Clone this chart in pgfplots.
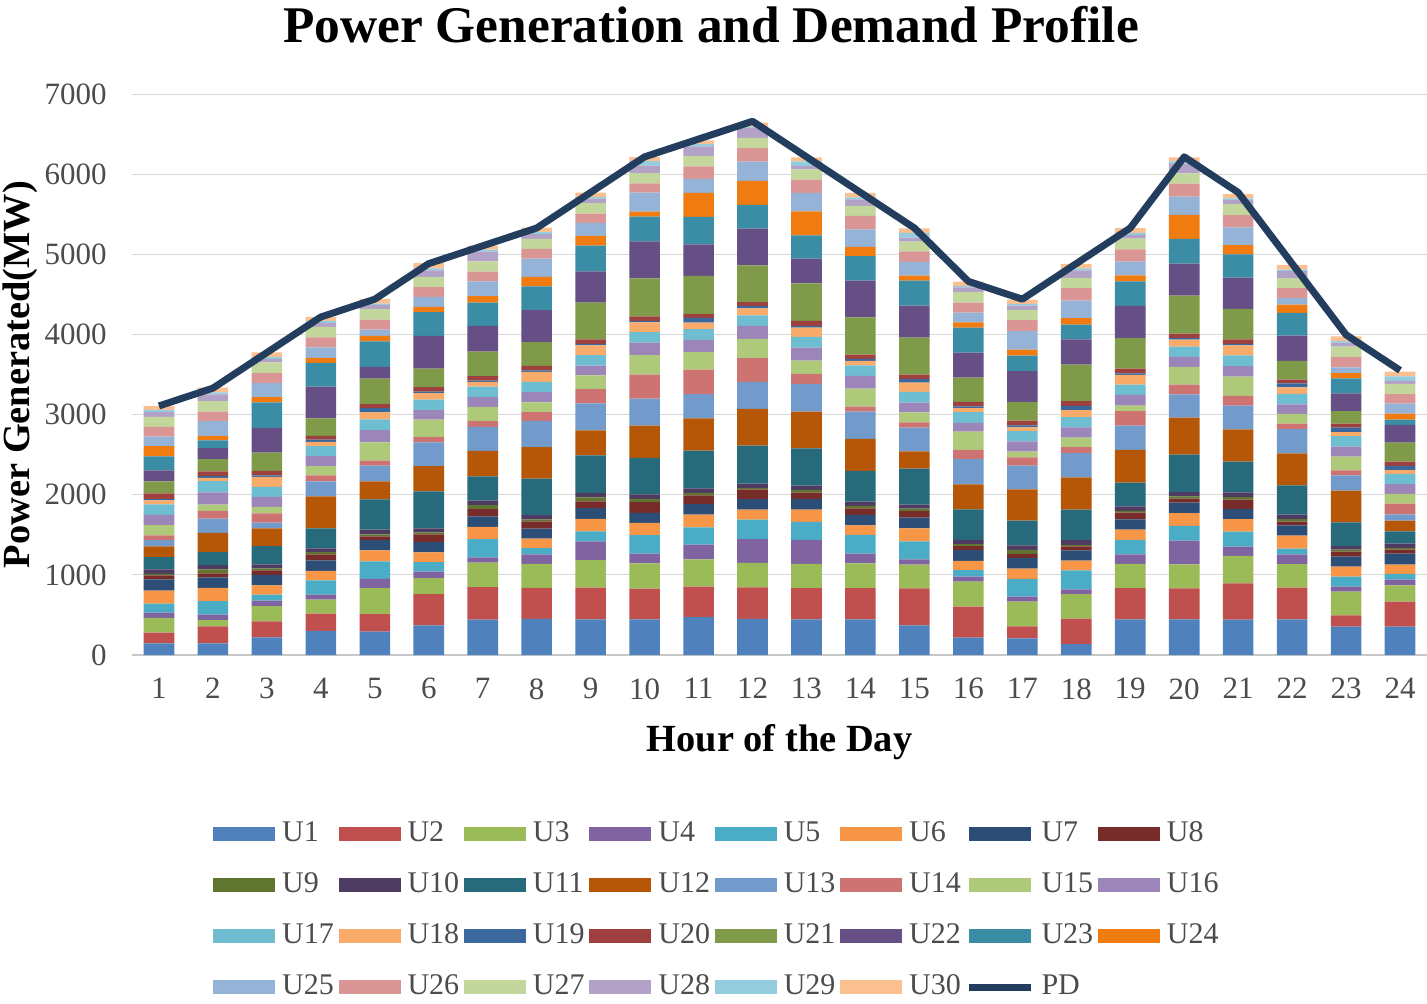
\documentclass[border=0pt]{standalone}
\usepackage{fontspec}
\setmainfont{Liberation Serif}
\usepackage{pgfplots}
\usepackage{pgfplotstable}
\pgfplotsset{compat=1.18}
\definecolor{c1}{HTML}{4F81BD}\definecolor{c2}{HTML}{C0504D}\definecolor{c3}{HTML}{9BBB59}
\definecolor{c4}{HTML}{8064A2}\definecolor{c5}{HTML}{4BACC6}\definecolor{c6}{HTML}{F79646}
\definecolor{c7}{HTML}{2C4D75}\definecolor{c8}{HTML}{772C2A}\definecolor{c9}{HTML}{5F7530}
\definecolor{c10}{HTML}{4D3B62}\definecolor{c11}{HTML}{276A7C}\definecolor{c12}{HTML}{B65708}
\definecolor{c13}{HTML}{729ACA}\definecolor{c14}{HTML}{CD7371}\definecolor{c15}{HTML}{AFC97A}
\definecolor{c16}{HTML}{9C85B8}\definecolor{c17}{HTML}{6FBDD1}\definecolor{c18}{HTML}{F9AB6B}
\definecolor{c19}{HTML}{3A679C}\definecolor{c20}{HTML}{9E413E}\definecolor{c21}{HTML}{7F9A48}
\definecolor{c22}{HTML}{664F84}\definecolor{c23}{HTML}{3A8DA5}\definecolor{c24}{HTML}{F07B10}
\definecolor{c25}{HTML}{95B3D7}\definecolor{c26}{HTML}{D99694}\definecolor{c27}{HTML}{C3D69B}
\definecolor{c28}{HTML}{B3A2C7}\definecolor{c29}{HTML}{93CDDD}\definecolor{c30}{HTML}{FAC090}
\definecolor{pdcol}{HTML}{233D5E}
\pgfplotsset{
  barleg/.style={legend image code/.code={\fill[##1] (0pt,-3.5pt) rectangle (31pt,3.5pt);}},
  pdleg/.style={legend image code/.code={\draw[##1] (0pt,0pt) -- (31pt,0pt);}}
}
\pgfplotstableread{
h U1 U2 U3 U4 U5 U6 U7 U8 U9 U10 U11 U12 U13 U14 U15 U16 U17 U18 U19 U20 U21 U22 U23 U24 U25 U26 U27 U28 U29 U30 PD
1 146 133 183 67 113 163 138 50 21 54 154 133 79 58 129 129 129 50 17 71 150 138 175 125 121 121 125 63 25 50 3108
2 146 213 75 71 167 167 129 50 50 54 163 238 179 96 79 154 138 42 25 54 154 138 96 58 183 117 133 83 25 58 3330
3 221 200 188 71 75 113 133 54 25 50 229 221 71 117 79 125 125 125 21 54 229 308 317 67 175 125 133 42 25 58 3774
4 300 217 175 63 175 121 129 75 29 46 250 400 188 75 113 125 125 54 29 46 217 396 296 63 133 125 129 50 25 50 4218
5 292 217 325 117 217 138 129 46 25 58 379 225 196 63 225 154 133 88 54 50 317 146 321 67 79 125 129 54 17 58 4440
6 371 388 200 83 117 121 129 96 25 50 463 313 296 67 217 121 129 83 17 58 229 408 296 67 125 121 129 79 25 67 4884
7 442 404 308 63 229 154 129 92 50 54 304 317 300 71 179 121 133 58 17 54 308 321 288 83 183 121 129 121 25 50 5106
8 450 388 300 117 79 117 125 92 25 54 454 392 329 108 121 129 129 125 17 58 296 400 296 117 229 121 125 58 25 58 5328
9 446 396 342 233 125 158 133 83 50 58 466 312 337 179 171 121 133 121 17 58 458 391 320 121 162 116 133 54 21 54 5772
10 446 383 316 121 229 154 125 133 42 54 458 400 337 300 245 154 133 121 17 58 474 462 308 62 237 116 129 92 58 50 6216
11 472 380 341 183 218 157 131 109 31 57 472 402 301 306 218 153 135 83 57 52 472 393 345 297 175 157 131 118 31 44 6438
12 450 393 306 297 245 122 131 122 17 57 472 459 336 297 240 162 131 87 31 48 459 459 297 297 240 170 127 122 17 52 6660
13 445 391 300 300 225 154 129 83 33 54 466 458 345 125 166 162 133 116 21 62 470 308 291 300 229 166 129 42 58 50 6216
14 445 391 308 121 233 121 129 83 29 54 383 399 341 62 225 158 133 54 25 54 466 458 304 116 220 166 125 83 25 54 5772
15 370 462 295 67 225 162 133 83 29 50 449 216 295 67 125 121 133 116 46 54 462 399 312 62 171 133 121 50 58 58 5328
16 216 387 312 62 83 116 133 50 25 54 379 312 316 116 225 112 133 50 21 58 300 312 312 67 121 125 133 58 17 54 4662
17 208 150 308 62 221 129 133 50 50 58 308 391 295 104 71 129 129 46 25 58 229 387 196 75 229 137 129 54 21 54 4440
18 137 316 308 58 237 121 129 50 17 62 379 404 300 75 121 125 129 87 54 58 458 312 187 79 220 154 129 92 25 58 4884
19 445 391 300 121 179 129 129 83 21 58 295 408 304 179 71 133 129 121 17 62 379 404 304 75 171 154 133 46 25 62 5328
20 445 387 300 295 183 162 129 50 29 54 466 462 291 121 220 125 129 87 21 54 474 399 308 300 229 162 129 125 25 50 6216
21 441 454 341 116 187 158 125 116 33 58 383 404 295 121 241 133 133 125 17 58 379 391 291 116 220 154 137 50 21 54 5772
22 445 395 295 121 71 162 129 46 33 54 366 399 304 67 121 121 129 83 50 46 233 316 283 104 79 125 125 87 21 58 4884
23 354 141 295 62 125 125 125 62 25 46 295 395 191 62 171 125 133 50 54 50 158 220 187 67 71 129 129 50 21 58 3996
24 354 312 204 71 71 116 137 50 21 54 154 133 79 133 121 121 129 46 54 54 237 220 67 75 125 116 129 37 58 58 3552
}\gen
\begin{document}
\begin{tikzpicture}
\path[use as bounding box] (0pt,0pt) rectangle (713.5pt,-501.5pt);
\node[font=\fontsize{25.7}{28}\selectfont\bfseries, anchor=center] at (355.5pt,-12.5pt) {Power Generation and Demand Profile};
\begin{axis}[
  at={(66pt,-327.5pt)}, anchor=south west,
  scale only axis, width=647.5pt, height=280.5pt,
  ybar stacked, bar width=15.3pt,
  xmin=0.5, xmax=24.5, ymin=0, ymax=7000,
  enlargelimits=false,
  xtick={1,...,24}, ytick={0,1000,...,7000},
  axis x line*=bottom, axis y line*=left,
  x axis line style={draw=black!22, line width=0.6pt},
  y axis line style={draw=none},
  major tick length=0pt,
  ymajorgrids, grid style={draw=black!15, line width=0.5pt},
  tick label style={font=\fontsize{15.5}{18}\selectfont, text=black!70},
  /pgf/number format/assume math mode=true,
  scaled y ticks=false,
  yticklabel style={/pgf/number format/1000 sep={}, inner sep=0pt, xshift=-12.5pt},
  xticklabel style={inner sep=0pt, yshift=-11.5pt},
  xlabel={Hour of the Day},
  ylabel={Power Generated(MW)},
  label style={font=\fontsize{19.2}{22}\selectfont\bfseries},
  xlabel style={at={(axis description cs:0.5,-0.155)}, anchor=center},
  ylabel style={at={(axis description cs:-0.0865,0.5)}, anchor=center},
]
\pgfplotsinvokeforeach{1,...,30}{\addplot[fill=c#1, draw=none] table[x=h, y=U#1]{\gen};}
\end{axis}
\begin{axis}[
  at={(66pt,-327.5pt)}, anchor=south west,
  scale only axis, width=647.5pt, height=280.5pt,
  xmin=0.5, xmax=24.5, ymin=0, ymax=7000,
  enlargelimits=false,
  hide axis,
  legend columns=8,
  legend style={at={(0.451,-0.456)}, anchor=center, draw=none, fill=none,
    font=\fontsize{15}{18}\selectfont, text=black!70,
    nodes={inner sep=0pt, text width=26pt, align=left, text height=10.5pt, text depth=3pt},
    /tikz/every odd column/.append style={column sep=3.5pt},
    /tikz/every even column/.append style={column sep=2.2pt},
    row sep=12pt},
  legend entries={U1,U2,U3,U4,U5,U6,U7,U8,U9,U10,U11,U12,U13,U14,U15,U16,U17,U18,U19,U20,U21,U22,U23,U24,U25,U26,U27,U28,U29,U30,PD},
]
\pgfplotsinvokeforeach{1,...,30}{\addlegendimage{barleg, fill=c#1, draw=none}}
\addplot[pdcol, line width=3.5pt, line join=round, mark=none, pdleg] table[x=h, y=PD]{\gen};
\end{axis}
\end{tikzpicture}
\end{document}
